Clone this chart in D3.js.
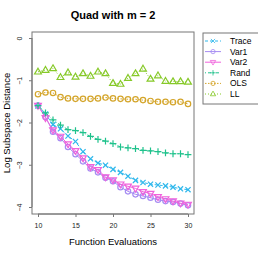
<!DOCTYPE html>
<html>
<head>
<meta charset="UTF-8">
<script src="https://cdn.jsdelivr.net/npm/d3@7"></script>
<style>
  body { margin: 0; background: #fff; }
  text { font-family: "Liberation Sans", Arial, sans-serif; }
</style>
</head>
<body>
<svg id="chart" width="258" height="254"></svg>
<script>
// evaluations on the x axis
var evals = d3.range(10, 31);

// log subspace distance, one array per method
var trace = [-1.61, -1.80, -2.05, -2.15, -2.32, -2.45, -2.69, -2.86, -2.96, -3.01, -3.11,
             -3.18, -3.27, -3.37, -3.42, -3.46, -3.48, -3.50, -3.53, -3.57, -3.59];
var var1  = [-1.60, -1.87, -2.22, -2.37, -2.58, -2.75, -2.92, -3.09, -3.18, -3.31, -3.39,
             -3.53, -3.63, -3.70, -3.74, -3.78, -3.83, -3.86, -3.88, -3.92, -3.96];
var var2  = [-1.60, -1.89, -2.18, -2.33, -2.51, -2.67, -2.84, -3.05, -3.12, -3.29, -3.36,
             -3.46, -3.51, -3.56, -3.64, -3.68, -3.76, -3.81, -3.86, -3.91, -3.94];
var rand  = [-1.60, -1.77, -1.94, -2.06, -2.17, -2.19, -2.24, -2.33, -2.40, -2.44, -2.50,
             -2.58, -2.60, -2.62, -2.66, -2.67, -2.69, -2.72, -2.74, -2.74, -2.76];
var ols   = [-1.33, -1.29, -1.30, -1.40, -1.43, -1.44, -1.44, -1.44, -1.43, -1.41, -1.43,
             -1.44, -1.45, -1.45, -1.47, -1.49, -1.51, -1.51, -1.52, -1.51, -1.56];
var ll    = [-0.80, -0.76, -0.72, -0.93, -0.82, -0.92, -0.84, -0.90, -0.80, -0.84, -1.07,
             -1.09, -0.95, -0.84, -0.73, -0.97, -0.89, -1.02, -1.03, -1.03, -1.04];

var names = ["Trace", "Var1", "Var2", "Rand", "OLS", "LL"];
var xTicks = [10, 15, 20, 25, 30];
var yTicks = [0, -1, -2, -3, -4];

var series = [
  {name: "Trace", values: trace, color: "#2fb8ec", pch: "x",    dash: "3,2"},
  {name: "Var1",  values: var1,  color: "#a58cf2", pch: "o",    dash: null},
  {name: "Var2",  values: var2,  color: "#f062dc", pch: "tdown", dash: null},
  {name: "Rand",  values: rand,  color: "#1fc28c", pch: "plus", dash: "1,2,3,2"},
  {name: "OLS",   values: ols,   color: "#d4a52a", pch: "o",    dash: "1.5,1.5"},
  {name: "LL",    values: ll,    color: "#86c928", pch: "tup",  dash: "1,2"}
];

var svg = d3.select("#chart");
var box = {l: 32, r: 194, t: 32, b: 214};

var x = d3.scaleLinear().domain([10, 30]).range([38, 188]);
var y = d3.scaleLinear().domain([0, -4]).range([38, 207]);

// symbol paths, R-like pch
function symbol(type) {
  if (type == "x") return "M-2.6,-2.6L2.6,2.6M-2.6,2.6L2.6,-2.6";
  if (type == "plus") return "M-3.4,0L3.4,0M0,-3.4L0,3.4";
  if (type == "o") return "M2.7,0A2.7,2.7 0 1,1 -2.7,0A2.7,2.7 0 1,1 2.7,0Z";
  if (type == "tup") return "M0,-3.6L3.4,2.2L-3.4,2.2Z";
  if (type == "tdown") return "M0,3.6L3.4,-2.2L-3.4,-2.2Z";
}

// title
svg.append("text").attr("x", (box.l + box.r) / 2).attr("y", 19)
  .attr("text-anchor", "middle").style("font-weight", "bold").style("font-size", "11px")
  .text("Quad with m = 2");

// frame
svg.append("rect").attr("x", box.l).attr("y", box.t)
  .attr("width", box.r - box.l).attr("height", box.b - box.t)
  .attr("fill", "none").attr("stroke", "#777").attr("stroke-width", 1);

// x axis
var xa = svg.append("g").attr("transform", "translate(0," + box.b + ")")
  .call(d3.axisBottom(x).tickValues(xTicks).tickSize(3).tickPadding(6).tickSizeOuter(0));
xa.select(".domain").attr("stroke", "#777").attr("d", "M" + x(10) + ",0H" + x(30));
xa.selectAll(".tick line").attr("stroke", "#777");
xa.selectAll("text").style("font-size", "7px").attr("fill", "#222")
  .style("font-family", "Liberation Sans, Arial, sans-serif");

// y axis
var ya = svg.append("g").attr("transform", "translate(" + box.l + ",0)")
  .call(d3.axisLeft(y).tickValues(yTicks).tickSize(3).tickFormat(d3.format("d")).tickSizeOuter(0));
ya.select(".domain").attr("stroke", "#777").attr("d", "M0," + y(0) + "V" + y(-4));
ya.selectAll(".tick line").attr("stroke", "#777");
ya.selectAll(".tick text").attr("x", 0).attr("dy", 0)
  .attr("transform", "translate(-10,0) rotate(-90)")
  .attr("text-anchor", "middle").style("font-size", "7px").attr("fill", "#222")
  .style("font-family", "Liberation Sans, Arial, sans-serif");

// axis titles
svg.append("text").attr("x", (box.l + box.r) / 2).attr("y", 245)
  .attr("text-anchor", "middle").style("font-size", "9.5px").text("Function Evaluations");
svg.append("text").attr("transform", "translate(10," + ((box.t + box.b) / 2) + ") rotate(-90)")
  .attr("text-anchor", "middle").style("font-size", "9.5px").text("Log Subspace Distance");

// series lines and points
var line = d3.line().x(function(d, i) { return x(evals[i]); }).y(function(d) { return y(d); });
var g = svg.append("g");
series.forEach(function(s) {
  g.append("path").attr("d", line(s.values)).attr("fill", "none")
    .attr("stroke", s.color).attr("stroke-width", 1)
    .attr("stroke-dasharray", s.dash);
  g.selectAll(null).data(s.values).enter().append("path")
    .attr("d", symbol(s.pch))
    .attr("transform", function(d, i) { return "translate(" + x(evals[i]) + "," + y(d) + ")"; })
    .attr("fill", "none").attr("stroke", s.color).attr("stroke-width", 1.2);
});

// legend
var lg = svg.append("g");
lg.append("rect").attr("x", 203).attr("y", 33).attr("width", 70).attr("height", 71)
  .attr("fill", "#fff").attr("stroke", "#777");
series.forEach(function(s, i) {
  var ly = 41 + i * 10.6;
  lg.append("line").attr("x1", 205).attr("x2", 221).attr("y1", ly).attr("y2", ly)
    .attr("stroke", s.color).attr("stroke-dasharray", s.dash);
  lg.append("path").attr("d", symbol(s.pch)).attr("transform", "translate(213," + ly + ") scale(0.8)")
    .attr("fill", "none").attr("stroke", s.color).attr("stroke-width", 1);
  lg.append("text").attr("x", 230).attr("y", ly + 3).style("font-size", "8.5px").text(names[i]);
});
</script>
</body>
</html>
